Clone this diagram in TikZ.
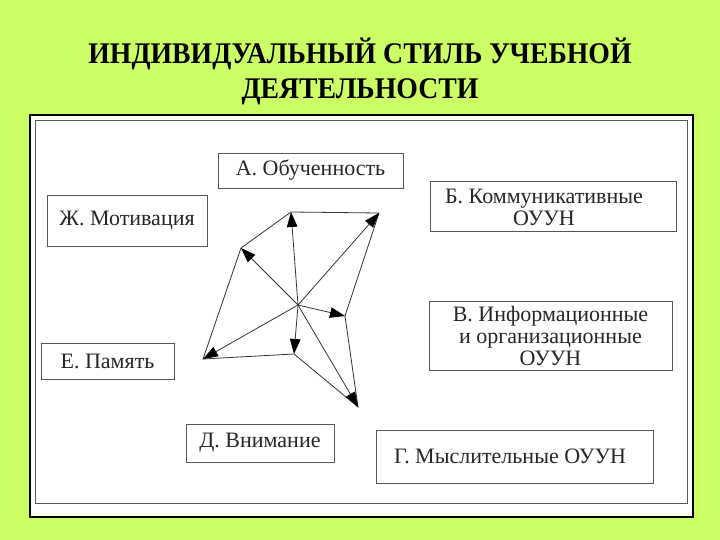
\documentclass[tikz,border=0pt]{standalone}
\usepackage{fontspec}
\setmainfont{Liberation Serif}
\usetikzlibrary{arrows.meta}
\definecolor{bg}{HTML}{CCFF66}
\definecolor{boxline}{HTML}{555555}
\tikzset{
  lbl/.style={draw=boxline, line width=0.9pt, fill=white, minimum width=#1, inner sep=0pt, align=center,
    font=\fontsize{22}{22}\selectfont, text=black!85},
  txt/.style={inner sep=0pt, align=center, font=\fontsize{22}{22}\selectfont, text=black!85},
  edge/.style={draw=black!80, line width=0.8pt},
  ray/.style={edge, -{Triangle[length=15pt,width=10.5pt,fill=black,color=black]}},
}
\begin{document}
\begin{tikzpicture}[x=1pt,y=-1pt]
\fill[bg] (0,0) rectangle (720,540);
\useasboundingbox (0,0) rectangle (720,540);
% title
\node[font=\bfseries\fontsize{30}{35}\selectfont, align=center] (title) at (360,71)
  {\scalebox{0.925}[1]{ИНДИВИДУАЛЬНЫЙ СТИЛЬ УЧЕБНОЙ}\\\scalebox{0.925}[1]{ДЕЯТЕЛЬНОСТИ}};
% frame
\draw[black, line width=2.2pt, fill=white] (30,115) rectangle (693,517);
\draw[black!65, line width=1pt] (35,121) rectangle (687,503);
% boxes
\node[lbl=185pt, minimum height=35pt] (A) at (310.5,170.5) {А. Обученность};
\node[lbl=246pt, minimum height=50pt] (B) at (553,206.5) {};
\node[txt] (Btxt) at (544,207) {Б. Коммуникативные\\ОУУН};
\node[lbl=243pt, minimum height=69pt] (V) at (550.5,335.5) {В. Информационные\\и организационные\\ОУУН};
\node[lbl=160pt, minimum height=51pt] (Zh) at (127,220.5) {Ж. Мотивация};
\node[lbl=133pt, minimum height=36pt] (E) at (107.5,361) {Е. Память};
\node[lbl=148pt, minimum height=38pt] (D) at (260,443) {Д. Внимание};
\node[lbl=277pt, minimum height=53pt] (G) at (514.5,456.5) {};
\node[txt] (Gtxt) at (510,456.5) {Г. Мыслительные ОУУН};
% star diagram
\coordinate (c) at (298,305);
\coordinate (pA) at (291,212);
\coordinate (pB) at (379,213);
\coordinate (pV) at (345,316);
\coordinate (pG) at (358,407);
\coordinate (pD) at (294,354);
\coordinate (pE) at (203,359);
\coordinate (pZh) at (241,248);
\draw[edge] (pA) -- (pB) -- (pV) -- (pG) -- (pD) -- (pE) -- (pZh) -- cycle;
\foreach \p in {pA,pB,pV,pG,pD,pE,pZh} \draw[ray] (c) -- (\p);
\end{tikzpicture}
\end{document}
